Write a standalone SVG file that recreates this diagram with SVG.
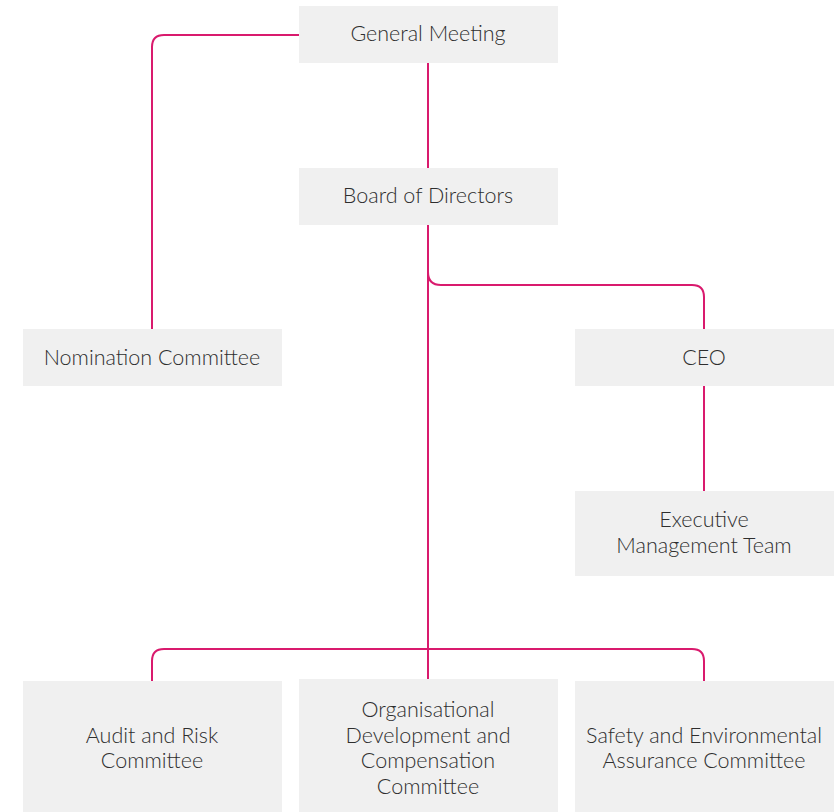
<svg xmlns="http://www.w3.org/2000/svg" width="839" height="812" viewBox="0 0 839 812">
<style>
.box{fill:#f0f0f0}
.t{font-family:Lato,"Open Sans","Liberation Sans",sans-serif;font-weight:300;font-size:21.5px;fill:#2e2e2e;text-anchor:middle}
.c{fill:none;stroke:#d91a6d;stroke-width:2}
</style>
<rect width="839" height="812" fill="#fff"/>
<g id="connectors">
<path class="c" d="M299,35 H164 Q152,35 152,47 V329"/>
<path class="c" d="M428,62 V168"/>
<path class="c" d="M428,224 V679"/>
<path class="c" d="M428,272 Q428,285 441,285 H692 Q704,285 704,297 V329"/>
<path class="c" d="M704,385 V491"/>
<path class="c" d="M152,681 V661 Q152,649 164,649 H692 Q704,649 704,661 V681"/>
</g>
<g id="general-meeting"><rect class="box" x="299" y="6" width="259" height="57"/><text class="t" x="428" y="41">General Meeting</text></g>
<g id="board"><rect class="box" x="299" y="168" width="259" height="57"/><text class="t" x="428" y="203">Board of Directors</text></g>
<g id="nomination"><rect class="box" x="23" y="329" width="259" height="57"/><text class="t" x="152" y="365">Nomination Committee</text></g>
<g id="ceo"><rect class="box" x="575" y="329" width="259" height="57"/><text class="t" x="704" y="365">CEO</text></g>
<g id="emt"><rect class="box" x="575" y="491" width="259" height="85"/><text class="t" x="704" y="527">Executive</text><text class="t" x="704" y="553">Management Team</text></g>
<g id="audit"><rect class="box" x="23" y="681" width="259" height="131"/><text class="t" x="152" y="743">Audit and Risk</text><text class="t" x="152" y="768">Committee</text></g>
<g id="odc"><rect class="box" x="299" y="679" width="259" height="133"/><text class="t" x="428" y="717">Organisational</text><text class="t" x="428" y="743">Development and</text><text class="t" x="428" y="768">Compensation</text><text class="t" x="428" y="794">Committee</text></g>
<g id="safety"><rect class="box" x="575" y="681" width="259" height="131"/><text class="t" x="704" y="743">Safety and Environmental</text><text class="t" x="704" y="768">Assurance Committee</text></g>
</svg>
